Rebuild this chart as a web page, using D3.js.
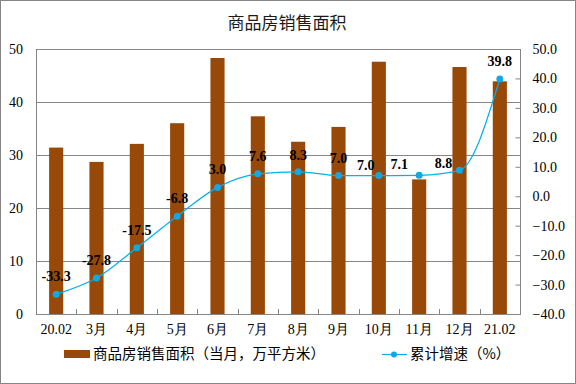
<!DOCTYPE html>
<html lang="zh">
<head>
    <meta charset="utf-8"/>
    <script src="https://d3js.org/d3.v7.min.js"></script>
    <style>
        body { margin: 0; background: #fff; }
        svg { display: block; }
    </style>
</head>
<body>
<div id="viz">
    <svg width="576" height="384"></svg>
</div>

<script type="text/javascript">

    // datos
    const meses = ["20.02", "3月", "4月", "5月", "6月", "7月", "8月", "9月", "10月", "11月", "12月", "21.02"];
    const area = [31.4, 28.7, 32.1, 36.0, 48.3, 37.3, 32.5, 35.3, 47.6, 25.4, 46.6, 43.9];
    const crecimiento = [-33.3, -27.8, -17.5, -6.8, 3.0, 7.6, 8.3, 7.0, 7.0, 7.1, 8.8, 39.8];
    const ticksIzq = [0, 10, 20, 30, 40, 50];
    const ticksDer = [-40, -30, -20, -10, 0, 10, 20, 30, 40, 50];

    const marron = "#984807", azul = "#00b0f0", gris = "#868686";
    const serif = "'Liberation Serif', 'Times New Roman', serif";
    const cjk = "'Noto Sans CJK SC', sans-serif";

    const svg = d3.select("svg");
    const m = {left: 36, right: 520, top: 49, bottom: 314};

    // borde exterior
    svg.append("rect")
        .attr("x", 0.5).attr("y", 0.5)
        .attr("width", 575).attr("height", 383)
        .attr("fill", "#fff").attr("stroke", gris);

    // titulo
    svg.append("text")
        .attr("x", 287).attr("y", 29)
        .attr("text-anchor", "middle")
        .style("font-family", cjk).style("font-size", "17px")
        .attr("fill", "#1a1a1a")
        .text("商品房销售面积");

    // escalas
    let x = d3.scaleBand().domain(meses).range([m.left, m.right]).paddingInner(0.65).paddingOuter(0.325);
    let xc = d3.scaleBand().domain(meses).range([m.left, m.right]);
    let yIzq = d3.scaleLinear().domain([0, 50]).range([m.bottom, m.top]);
    let yDer = d3.scaleLinear().domain([-40, 50]).range([m.bottom, m.top]);

    // grilla
    svg.append("g")
        .selectAll("line")
        .data(ticksIzq.slice(1, -1)).enter()
        .append("line")
        .attr("x1", m.left).attr("x2", m.right)
        .attr("y1", d => Math.round(yIzq(d)) + 0.5)
        .attr("y2", d => Math.round(yIzq(d)) + 0.5)
        .attr("stroke", gris);

    // barras
    svg.append("g")
        .selectAll("rect")
        .data(area).enter()
        .append("rect")
        .attr("x", (d, i) => x(meses[i]))
        .attr("width", x.bandwidth())
        .attr("y", d => yIzq(d))
        .attr("height", d => yIzq(0) - yIzq(d))
        .attr("fill", marron);

    // marco del area
    svg.append("rect")
        .attr("x", m.left + 0.5).attr("y", m.top + 0.5)
        .attr("width", m.right - m.left).attr("height", m.bottom - m.top)
        .attr("fill", "none").attr("stroke", gris);

    // eje izquierdo
    let ejeIzq = d3.axisLeft(yIzq).tickValues(ticksIzq).tickSize(0).tickPadding(13).tickFormat(d3.format("d"));
    svg.append("g")
        .attr("transform", "translate(" + m.left + ",0)")
        .style("font-family", serif).style("font-size", "14px")
        .call(ejeIzq)
        .call(g => g.select(".domain").remove())
        .selectAll("text").attr("fill", "#000");

    // eje derecho, ticks hacia adentro
    let ejeDer = d3.axisRight(yDer).tickValues(ticksDer).tickSize(-5).tickPadding(12).tickFormat(d3.format(".1f"));
    svg.append("g")
        .attr("transform", "translate(" + (m.right + 0.5) + ",0)")
        .style("font-family", serif).style("font-size", "14px")
        .call(ejeDer)
        .call(g => g.select(".domain").remove())
        .call(g => g.selectAll(".tick line").attr("stroke", gris))
        .selectAll("text").attr("fill", "#000");

    // eje x
    let ejeX = d3.axisBottom(xc).tickSize(0).tickPadding(10);
    svg.append("g")
        .attr("transform", "translate(0," + m.bottom + ")")
        .style("font-family", serif).style("font-size", "14px")
        .call(ejeX)
        .call(g => g.select(".domain").remove())
        .selectAll("text").attr("fill", "#000");

    // marcas entre categorias
    svg.append("g")
        .selectAll("line")
        .data(meses.slice(1)).enter()
        .append("line")
        .attr("x1", d => Math.round(xc(d)) + 0.5).attr("x2", d => Math.round(xc(d)) + 0.5)
        .attr("y1", m.bottom).attr("y2", m.bottom - 5)
        .attr("stroke", gris);

    // linea de crecimiento
    let linea = d3.line()
        .x((d, i) => xc(meses[i]) + xc.bandwidth() / 2)
        .y(d => yDer(d))
        .curve(d3.curveMonotoneX);

    svg.append("path")
        .attr("d", linea(crecimiento))
        .attr("fill", "none")
        .attr("stroke", azul)
        .attr("stroke-width", 1.2);

    svg.append("g")
        .selectAll("circle")
        .data(crecimiento).enter()
        .append("circle")
        .attr("cx", (d, i) => xc(meses[i]) + xc.bandwidth() / 2)
        .attr("cy", d => yDer(d))
        .attr("r", 3.5)
        .attr("fill", "#13a7e6");

    // etiquetas (algunas desplazadas a mano como en el original)
    const etiquetaDx = [0, 0, 0, 0, 0, 0, 0, 0, -13, -20, -16, 0];
    const etiquetaDy = [-13, -13, -13, -13, -13, -13, -12, -13, -6, -6, -2, -13];
    svg.append("g")
        .selectAll("text")
        .data(crecimiento).enter()
        .append("text")
        .attr("x", (d, i) => xc(meses[i]) + xc.bandwidth() / 2 + etiquetaDx[i])
        .attr("y", (d, i) => yDer(d) + etiquetaDy[i])
        .attr("text-anchor", "middle")
        .style("font-family", serif).style("font-size", "14px").style("font-weight", "bold")
        .attr("fill", "#000")
        .text(d => d.toFixed(1));

    // leyenda
    let ley = svg.append("g").style("font-family", cjk).style("font-size", "14.5px");
    ley.append("rect").attr("x", 64).attr("y", 350).attr("width", 26).attr("height", 8).attr("fill", marron);
    ley.append("text").attr("x", 93).attr("y", 359).attr("fill", "#000").text("商品房销售面积（当月，万平方米）");
    ley.append("line").attr("x1", 382).attr("x2", 407).attr("y1", 354.5).attr("y2", 354.5).attr("stroke", azul).attr("stroke-width", 1.2);
    ley.append("circle").attr("cx", 394).attr("cy", 354.5).attr("r", 3).attr("fill", "#13a7e6");
    ley.append("text").attr("x", 410).attr("y", 359).attr("fill", "#000").text("累计增速（%）");

</script>
</body>
</html>
